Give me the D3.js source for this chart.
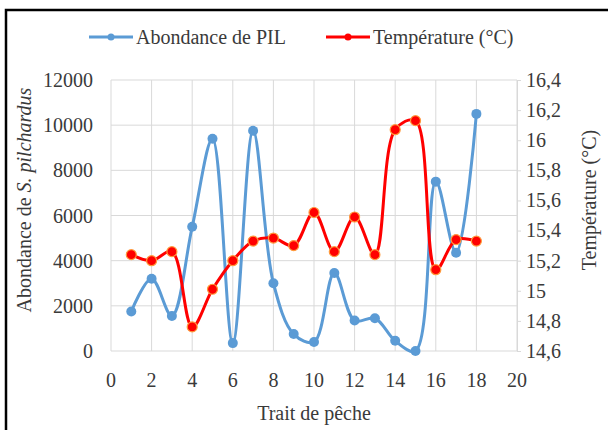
<!DOCTYPE html>
<html>
<head>
<meta charset="utf-8">
<script src="https://cdn.jsdelivr.net/npm/d3@7"></script>
<style>
  body { margin: 0; background: #fff; font-family: "Liberation Serif", "Times New Roman", serif; }
</style>
</head>
<body>
<svg id="chart" width="608" height="430" style="font-family: 'Liberation Serif', 'Times New Roman', serif;"></svg>
<script>
// data
let traits = [1, 2, 3, 4, 5, 6, 7, 8, 9, 10, 11, 12, 13, 14, 15, 16, 17, 18];
let abondance = [1750, 3200, 1550, 5500, 9400, 350, 9750, 3000, 750, 400, 3450, 1350, 1450, 450, 0, 7500, 4350, 10500];
let temperature = [15.24, 15.2, 15.26, 14.76, 15.01, 15.2, 15.33, 15.35, 15.3, 15.52, 15.26, 15.49, 15.24, 16.07, 16.13, 15.14, 15.34, 15.33];
let xTicks = [0, 2, 4, 6, 8, 10, 12, 14, 16, 18, 20];
let yTicks = [0, 2000, 4000, 6000, 8000, 10000, 12000];
let y2Ticks = [14.6, 14.8, 15, 15.2, 15.4, 15.6, 15.8, 16, 16.2, 16.4];

let labelFont = "20px 'Liberation Serif', 'Times New Roman', serif";
let textColor = "#3a3a3a";
let svg = d3.select("#chart");

// frame round the whole figure
svg.append("rect")
    .attr("x", 6).attr("y", 10)
    .attr("width", 640).attr("height", 460)
    .attr("fill", "none")
    .attr("stroke", "#000")
    .attr("stroke-width", 2.5);

let x = d3.scaleLinear().domain([0, 20]).range([111, 517]);
let y = d3.scaleLinear().domain([0, 12000]).range([351, 80]);
let y2 = d3.scaleLinear().domain([14.6, 16.4]).range([351, 80]);

// grid
svg.append("g")
    .selectAll("line.v")
    .data(xTicks)
    .join("line")
    .attr("x1", d => x(d)).attr("x2", d => x(d))
    .attr("y1", y(12000)).attr("y2", y(0))
    .attr("stroke", "#d9d9d9").attr("stroke-width", 1);

svg.append("g")
    .selectAll("line.h")
    .data(yTicks)
    .join("line")
    .attr("x1", x(0)).attr("x2", x(20))
    .attr("y1", d => y(d)).attr("y2", d => y(d))
    .attr("stroke", "#d9d9d9").attr("stroke-width", 1);

// left axis labels
svg.append("g")
    .selectAll("text")
    .data(yTicks)
    .join("text")
    .attr("x", 93)
    .attr("y", d => y(d) + 7)
    .attr("text-anchor", "end")
    .style("font", labelFont)
    .style("fill", textColor)
    .text(d => d);

// bottom axis labels
svg.append("g")
    .selectAll("text")
    .data(xTicks)
    .join("text")
    .attr("x", d => x(d))
    .attr("y", 387)
    .attr("text-anchor", "middle")
    .style("font", labelFont)
    .style("fill", textColor)
    .text(d => d);

// right axis
let rightAxis = d3.axisRight(y2)
    .tickValues(y2Ticks)
    .tickSize(4)
    .tickFormat(d => d3.format(".1f")(d).replace(".0", "").replace(".", ","));

let gr = svg.append("g")
    .attr("transform", `translate(${x(20)},0)`)
    .call(rightAxis);
gr.attr("font-family", null).attr("font-size", null);
gr.select(".domain").attr("stroke", "#d9d9d9");
gr.selectAll(".tick line").attr("stroke", "#d9d9d9");
gr.selectAll(".tick text")
    .attr("x", 9)
    .style("font", labelFont)
    .style("fill", textColor);

// axis titles
svg.append("text")
    .attr("x", 314).attr("y", 420)
    .attr("text-anchor", "middle")
    .style("font", labelFont)
    .style("fill", textColor)
    .text("Trait de pêche");

let lt = svg.append("text")
    .attr("transform", "translate(31,200) rotate(-90)")
    .attr("text-anchor", "middle")
    .style("font", labelFont)
    .style("fill", textColor);
lt.append("tspan").text("Abondance de ");
lt.append("tspan").style("font-style", "italic").text("S. pilchardus");

svg.append("text")
    .attr("transform", "translate(596,200) rotate(-90)")
    .attr("text-anchor", "middle")
    .style("font", labelFont)
    .style("fill", textColor)
    .text("Température  (°C)");

// series
let blue = "#5b9bd5";
let red = "#ff0000";

let lineA = d3.line()
    .x((d, i) => x(traits[i]))
    .y(d => y(d))
    .curve(d3.curveCatmullRom.alpha(0.5));

let lineT = d3.line()
    .x((d, i) => x(traits[i]))
    .y(d => y2(d))
    .curve(d3.curveCatmullRom.alpha(0.5));

svg.append("path")
    .datum(abondance)
    .attr("d", lineA)
    .attr("fill", "none")
    .attr("stroke", blue)
    .attr("stroke-width", 3);

svg.append("g")
    .selectAll("circle")
    .data(abondance)
    .join("circle")
    .attr("cx", (d, i) => x(traits[i]))
    .attr("cy", d => y(d))
    .attr("r", 5)
    .attr("fill", blue);

svg.append("path")
    .datum(temperature)
    .attr("d", lineT)
    .attr("fill", "none")
    .attr("stroke", red)
    .attr("stroke-width", 3);

svg.append("g")
    .selectAll("circle")
    .data(temperature)
    .join("circle")
    .attr("cx", (d, i) => x(traits[i]))
    .attr("cy", d => y2(d))
    .attr("r", 5)
    .attr("fill", red)
    .attr("stroke", "#ff9a3c")
    .attr("stroke-width", 1.2);

// legend
let legend = [
    {name: "Abondance de PIL", color: blue, x0: 89},
    {name: "Température (°C)", color: red, x0: 326}
];
let lg = svg.append("g")
    .selectAll("g")
    .data(legend)
    .join("g");
lg.append("line")
    .attr("x1", d => d.x0).attr("x2", d => d.x0 + 44)
    .attr("y1", 37).attr("y2", 37)
    .attr("stroke", d => d.color).attr("stroke-width", 3);
lg.append("circle")
    .attr("cx", d => d.x0 + 22).attr("cy", 37).attr("r", 3.5)
    .attr("fill", d => d.color);
lg.append("text")
    .attr("x", d => d.x0 + 47).attr("y", 44)
    .style("font", labelFont)
    .style("fill", textColor)
    .text(d => d.name);
</script>
</body>
</html>
